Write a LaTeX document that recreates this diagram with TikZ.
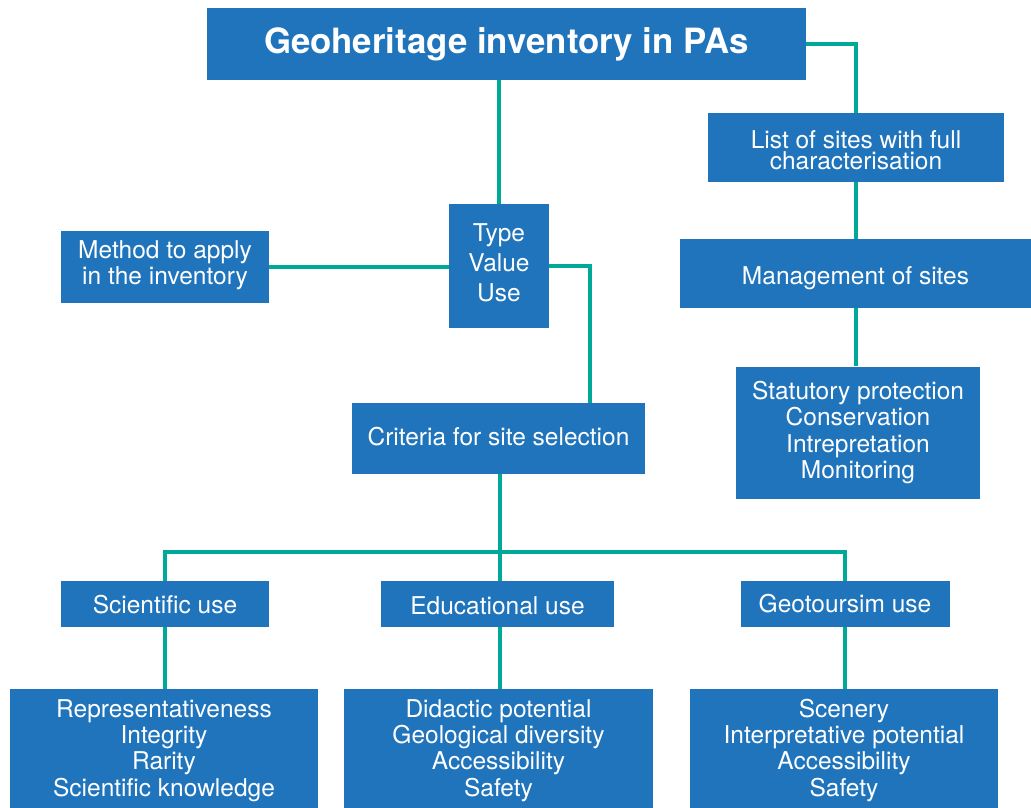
\documentclass[tikz,border=0pt]{standalone}
\usepackage{fontspec}
\setmainfont{TeX Gyre Heros}
\usetikzlibrary{calc}
\definecolor{boxblue}{RGB}{31,116,188}
\definecolor{linkteal}{RGB}{0,168,152}
\newcommand\shiftedtext[2]{\raisebox{#1}[\height][\depth]{#2}}
\begin{document}
\begin{tikzpicture}[x=1pt,y=-1pt,
  box/.style={fill=boxblue, text=white, inner sep=0pt, align=center, font=\fontsize{24.5}{26.3}\selectfont},
  conn/.style={draw=linkteal, line width=3.3pt}]
\useasboundingbox (0,0) rectangle (1031,807);
% nodes
\node[box, minimum width=599pt, minimum height=72pt, font=\fontsize{34.8}{40}\selectfont\bfseries] (title) at (506.5,44) {Geoheritage inventory in PAs};
\node[box, minimum width=296pt, minimum height=69pt] (list) at (856,147.5) {\shiftedtext{-6.5pt}{\begin{tabular}{@{}c@{}}List of sites with full\\[-5.3pt]characterisation\end{tabular}}};
\node[box, minimum width=351pt, minimum height=69pt] (mgmt) at (855.5,273.5) {\shiftedtext{-5pt}{Management of sites}};
\node[box, minimum width=244pt, minimum height=132pt] (stat) at (858,432.5) {Statutory protection\\Conservation\\Intrepretation\\Monitoring};
\node[box, minimum width=208pt, minimum height=72pt] (method) at (165,267) {\shiftedtext{1pt}{\begin{tabular}{@{}c@{}}Method to apply\\in the inventory\end{tabular}}};
\node[box, minimum width=100pt, minimum height=124pt] (type) at (499,266) {\begin{tabular}{@{}c@{}}Type\\[3.7pt]Value\\[3.7pt]Use\end{tabular}};
\node[box, minimum width=293pt, minimum height=71pt] (crit) at (498.5,438.5) {\shiftedtext{2pt}{Criteria for site selection}};
\node[box, minimum width=208pt, minimum height=46pt] (sci) at (165,604) {\shiftedtext{-1pt}{Scientific use}};
\node[box, minimum width=233pt, minimum height=46pt] (edu) at (497.5,604) {\shiftedtext{-2pt}{Educational use}};
\node[box, minimum width=209pt, minimum height=46pt] (geo) at (845,604) {Geotoursim use};
\node[box, minimum width=308pt, minimum height=119pt] (bl) at (164,748.5) {\shiftedtext{-3pt}{\begin{tabular}{@{}c@{}}Representativeness\\Integrity\\Rarity\\Scientific knowledge\end{tabular}}};
\node[box, minimum width=309pt, minimum height=119pt] (bm) at (498.5,748.5) {\shiftedtext{-3pt}{\begin{tabular}{@{}c@{}}Didactic potential\\Geological diversity\\Accessibility\\Safety\end{tabular}}};
\node[box, minimum width=308pt, minimum height=119pt] (br) at (844,748.5) {\shiftedtext{-3pt}{\begin{tabular}{@{}c@{}}Scenery\\Interpretative potential\\Accessibility\\Safety\end{tabular}}};
\coordinate (hub) at (500,552);
% connectors
\draw[conn] (title.south -| type.north) -- (type.north);
\draw[conn] (title.east) -| (list.north);
\draw[conn] (list.south) -- (list.south |- mgmt.north);
\draw[conn] (mgmt.south -| list.south) -- (stat.north -| list.south);
\draw[conn] (method.east) -- (method.east -| type.west);
\draw[conn] (type.east) -| ($(crit.north)+(91.5,0)$);
\draw[conn] (crit.south -| hub) -- (hub);
\draw[conn] (sci.north) -- (sci.north |- hub) -- (geo.north |- hub) -- (geo.north);
\draw[conn] (hub) -- (edu.north -| hub);
\draw[conn] (sci.south) -- (sci.south |- bl.north);
\draw[conn] (edu.south -| hub) -- (bm.north -| hub);
\draw[conn] (geo.south) -- (geo.south |- br.north);
\end{tikzpicture}
\end{document}
